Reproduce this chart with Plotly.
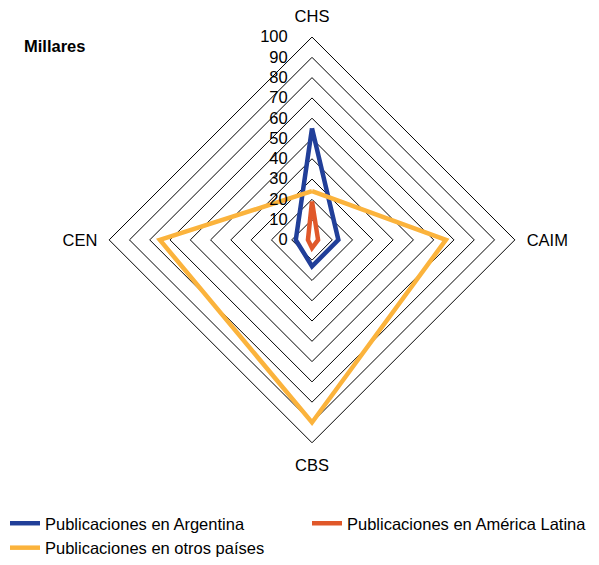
import plotly.graph_objects as go

# ejes del radar, en sentido horario desde arriba
categorias = ["CHS", "CAIM", "CBS", "CEN"]

# miles de publicaciones
argentina = [55, 13, 13, 8]
america_latina = [19, 3, 4, 2]
otros_paises = [24, 66, 90, 75]

series = ["Publicaciones en Argentina", "Publicaciones en América Latina", "Publicaciones en otros países"]
colores = ["#213f99", "#e0582a", "#fbb33c"]
leyendas = ["legend", "legend2", "legend"]

radial_ticks = list(range(0, 101, 10))


def cerrar(vals):
    return vals + vals[:1]


fig = go.Figure()
for nombre, vals, col, leg in zip(series, [argentina, america_latina, otros_paises], colores, leyendas):
    fig.add_trace(go.Scatterpolar(r=cerrar(vals), theta=cerrar(categorias), mode="lines",
                                  name=nombre, legend=leg, line=dict(color=col, width=4.5)))

fig.update_layout(
    width=599, height=565,
    margin=dict(l=0, r=0, t=0, b=0),
    paper_bgcolor="white", plot_bgcolor="white",
    font=dict(family="Liberation Sans, Arial, sans-serif", color="black", size=16.5),
    polar=dict(
        domain=dict(x=[103 / 599, 521 / 599], y=[1 - 454 / 565, 1 - 38 / 565]),
        gridshape="linear",
        bgcolor="white",
        radialaxis=dict(range=[0, 100], tickvals=radial_ticks, angle=90, tickangle=90,
                        showline=False, ticks="outside", ticklen=18, tickcolor="rgba(0,0,0,0)",
                        gridcolor="black", gridwidth=1,
                        side="counterclockwise", tickfont=dict(size=16.5)),
        angularaxis=dict(rotation=90, direction="clockwise", showgrid=False,
                         linecolor="black", linewidth=1, ticks="outside", ticklen=8,
                         tickcolor="rgba(0,0,0,0)", tickfont=dict(size=16.5)),
    ),
    legend=dict(x=5 / 599, xanchor="left", y=1 - 519 / 565, yanchor="top", font=dict(size=16.5)),
    legend2=dict(x=307 / 599, xanchor="left", y=1 - 519 / 565, yanchor="top", font=dict(size=16.5)),
    annotations=[dict(text="<b>Millares</b>", x=22 / 599, y=1 - 47 / 565, xref="paper", yref="paper",
                      xanchor="left", yanchor="middle", showarrow=False, font=dict(size=16.5))],
)

# sin el margen por defecto del body, la figura ocupa la ventana entera
fig.write_html("out.html", config={"displayModeBar": False},
               post_script="document.body.style.margin='0';")
